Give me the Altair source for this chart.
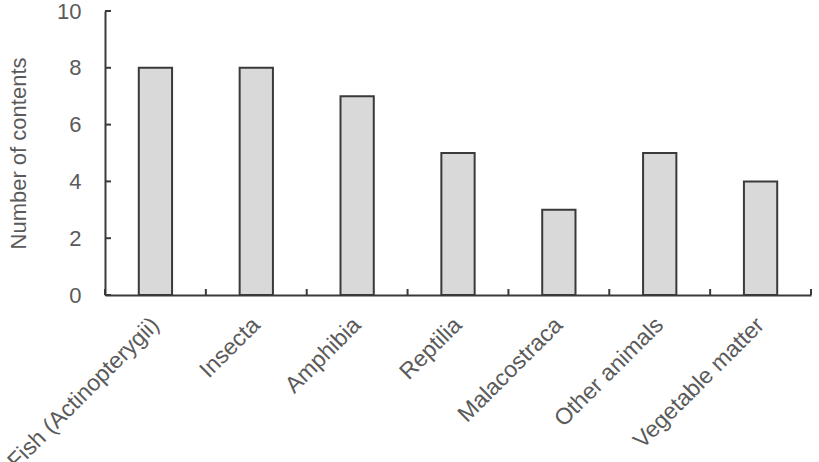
import altair as alt
import pandas as pd

categories = ["Fish (Actinopterygii)", "Insecta", "Amphibia", "Reptilia",
              "Malacostraca", "Other animals", "Vegetable matter"]
values = [8, 8, 7, 5, 3, 5, 4]
y_ticks = [0, 2, 4, 6, 8, 10]
band_edges = [0, 1, 2, 3, 4, 5, 6, 7]

df = pd.DataFrame({"category": categories, "count": values})
ytick_df = pd.DataFrame({"count": y_ticks})
xtick_df = pd.DataFrame({"edge": band_edges})

FONT = "Liberation Sans"
TEXT = "#5a5a5a"
AXIS = "#3a3a3a"
W, H = 706, 284

xscale = alt.Scale(paddingInner=0.67, paddingOuter=0.335)
yscale = alt.Scale(domain=[0, 10], nice=False)

bars = alt.Chart(df).mark_bar(
    fill="#d9d9d9", stroke="#3a3a3a", strokeWidth=2
).encode(
    x=alt.X("category:N", sort=categories, scale=xscale,
            axis=alt.Axis(title=None, orient="bottom", labelAngle=-45,
                          labelAlign="right", labelBaseline="middle",
                          labelFontSize=23, labelFont=FONT, labelColor=TEXT,
                          labelLimit=0, labelPadding=26, ticks=False,
                          domainColor=AXIS, domainWidth=2,
                          labelOverlap=False)),
    y=alt.Y("count:Q", scale=yscale,
            axis=alt.Axis(title="Number of contents", orient="left",
                          values=y_ticks, titleFont=FONT, titleFontSize=22,
                          titleFontWeight="normal", titleColor=TEXT,
                          titlePadding=26, ticks=False,
                          labelFont=FONT, labelFontSize=22, labelColor=TEXT,
                          labelPadding=24, domainColor=AXIS,
                          domainWidth=2, grid=False)),
)

# inward-pointing ticks on the value axis
yticks = alt.Chart(ytick_df).mark_rule(
    color=AXIS, strokeWidth=2
).encode(
    y=alt.Y("count:Q", scale=yscale, axis=None),
    x=alt.value(0), x2=alt.value(6),
)

# inward-pointing ticks at the category boundaries
xticks = alt.Chart(xtick_df).mark_rule(
    color=AXIS, strokeWidth=2
).encode(
    x=alt.X("edge:Q", scale=alt.Scale(domain=[0, 7], nice=False, zero=False),
            axis=None),
    y=alt.value(H), y2=alt.value(H - 6),
)

chart = alt.layer(bars, yticks, xticks).resolve_scale(
    x="independent"
).resolve_axis(
    x="independent", y="independent"
).properties(
    width=W, height=H,
    autosize=alt.AutoSizeParams(type="none"),
    padding={"left": 105, "top": 11, "right": 8, "bottom": 167},
).configure_view(stroke=None)

chart.save("out.html", embed_options={"renderer": "svg", "actions": False})
